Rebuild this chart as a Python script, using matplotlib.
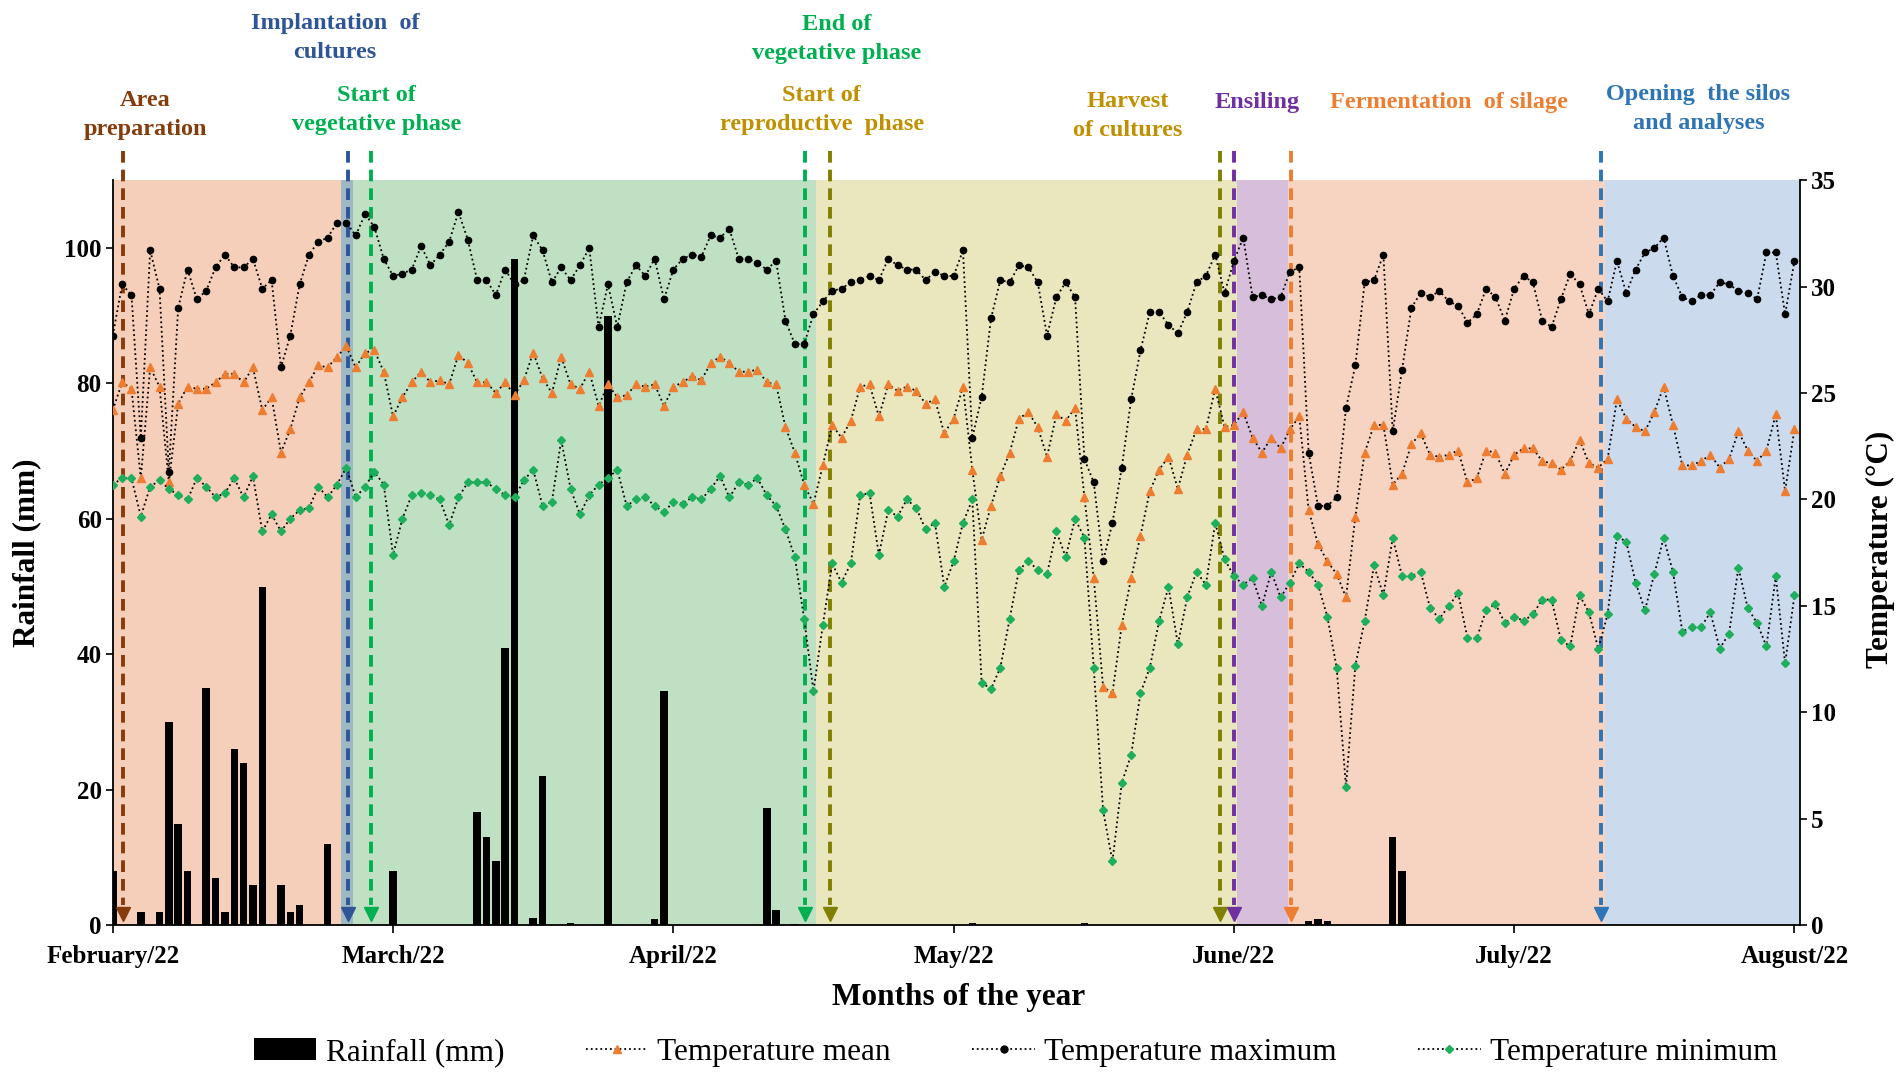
import numpy as np
import matplotlib
matplotlib.use("Agg")
import matplotlib.pyplot as plt
from matplotlib.patches import Patch
from matplotlib.lines import Line2D

plt.rcParams['font.family'] = ['Liberation Serif', 'DejaVu Serif']

# day index 0 = 1 Feb 2022
month_labels = ["February/22", "March/22", "April/22", "May/22",
                "June/22", "July/22", "August/22"]
month_ticks = [0, 30, 60, 90, 120, 150, 180]

rain_days = [0, 3, 5, 6, 7, 8, 10, 11, 12, 13, 14, 15, 16, 18, 19, 20, 23,
             30, 39, 40, 41, 42, 43, 45, 46, 49, 53, 58, 59, 70, 71, 73,
             92, 104, 128, 129, 130, 137, 138]
rain_mm = [8, 2, 2, 30, 15, 8, 35, 7, 2, 26, 24, 6, 50, 6, 2, 3, 12,
           8, 16.7, 13, 9.5, 41, 98.4, 1.1, 22, 0.4, 90, 1, 34.6, 17.3, 2.3, 0.2,
           0.3, 0.3, 0.7, 1.0, 0.7, 13, 8]

t_max = [27.7, 30.1, 29.6, 22.9, 31.7, 29.9, 21.3, 29.0, 30.8, 29.4, 29.8, 30.9, 31.5, 30.9, 30.9,
         31.3, 29.9, 30.3, 26.2, 27.7, 30.1, 31.5, 32.1, 32.3, 33.0, 33.0, 32.4, 33.4, 32.8, 31.3,
         30.5, 30.6, 30.8, 31.9, 31.0, 31.5, 32.1, 33.5, 32.2, 30.3, 30.3, 29.6, 30.8, 30.1, 30.3,
         32.4, 31.7, 30.2, 30.9, 30.3, 31.0, 31.8, 28.1, 30.1, 28.1, 30.2, 31.0, 30.5, 31.3, 29.4,
         30.8, 31.3, 31.5, 31.4, 32.4, 32.3, 32.7, 31.3, 31.3, 31.1, 30.8, 31.2, 28.4, 27.3, 27.3,
         28.7, 29.3, 29.8, 29.9, 30.2, 30.3, 30.5, 30.3, 31.3, 31.0, 30.8, 30.8, 30.3, 30.7, 30.5,
         30.5, 31.7, 22.9, 24.8, 28.5, 30.3, 30.2, 31.0, 30.9, 30.2, 27.7, 29.5, 30.2, 29.5, 21.9,
         20.8, 17.1, 18.9, 21.5, 24.7, 27.0, 28.8, 28.8, 28.2, 27.8, 28.8, 30.2, 30.5, 31.5, 29.7,
         31.2, 32.3, 29.5, 29.6, 29.4, 29.5, 30.7, 30.9, 22.2, 19.7, 19.7, 20.1, 24.3, 26.3, 30.2,
         30.3, 31.5, 23.2, 26.1, 29.0, 29.7, 29.5, 29.8, 29.3, 29.1, 28.3, 28.7, 29.9, 29.5, 28.4,
         29.9, 30.5, 30.2, 28.4, 28.1, 29.4, 30.6, 30.1, 28.7, 29.9, 29.3, 31.2, 29.7, 30.8, 31.6,
         31.8, 32.3, 30.5, 29.5, 29.3, 29.6, 29.6, 30.2, 30.1, 29.8, 29.7, 29.4, 31.6, 31.6, 28.7,
         31.2]

t_mean = [24.2, 25.5, 25.2, 21.0, 26.2, 25.3, 20.8, 24.5, 25.3, 25.2, 25.2, 25.5, 25.9, 25.9, 25.5,
          26.2, 24.2, 24.8, 22.2, 23.3, 24.8, 25.5, 26.3, 26.2, 26.7, 27.2, 26.2, 26.9, 27.0, 26.0,
          23.9, 24.8, 25.5, 26.0, 25.5, 25.6, 25.4, 26.8, 26.4, 25.5, 25.5, 25.0, 25.5, 24.9, 25.6,
          26.9, 25.7, 25.0, 26.7, 25.4, 25.2, 26.0, 24.4, 25.4, 24.8, 24.9, 25.4, 25.3, 25.4, 24.4,
          25.3, 25.5, 25.8, 25.6, 26.4, 26.7, 26.4, 26.0, 26.0, 26.1, 25.5, 25.4, 23.4, 22.2, 20.7,
          19.8, 21.6, 23.5, 22.9, 23.7, 25.3, 25.4, 23.9, 25.4, 25.1, 25.3, 25.1, 24.5, 24.7, 23.1,
          23.8, 25.3, 21.4, 18.1, 19.7, 21.1, 22.2, 23.8, 24.1, 23.4, 22.0, 24.0, 23.7, 24.3, 20.1,
          16.3, 11.2, 10.9, 14.1, 16.3, 18.3, 20.4, 21.4, 22.0, 20.5, 22.1, 23.3, 23.3, 25.2, 23.4,
          23.5, 24.1, 22.9, 22.2, 22.9, 22.4, 23.3, 23.9, 19.5, 17.9, 17.1, 16.5, 15.4, 19.2, 22.2,
          23.5, 23.5, 20.7, 21.2, 22.6, 23.1, 22.1, 22.0, 22.1, 22.3, 20.8, 21.0, 22.3, 22.2, 21.2,
          22.1, 22.4, 22.4, 21.8, 21.7, 21.4, 21.8, 22.8, 21.7, 21.5, 21.9, 24.7, 23.8, 23.4, 23.2,
          24.1, 25.3, 23.5, 21.6, 21.6, 21.8, 22.1, 21.5, 21.9, 23.2, 22.3, 21.8, 22.3, 24.0, 20.4,
          23.3]

t_min = [20.7, 21.0, 21.0, 19.2, 20.6, 20.9, 20.5, 20.2, 20.0, 21.0, 20.6, 20.1, 20.3, 21.0, 20.1,
         21.1, 18.5, 19.3, 18.5, 19.1, 19.5, 19.6, 20.6, 20.1, 20.7, 21.5, 20.1, 20.6, 21.3, 20.7,
         17.4, 19.1, 20.2, 20.3, 20.2, 20.0, 18.8, 20.1, 20.8, 20.8, 20.8, 20.5, 20.2, 20.1, 20.9,
         21.4, 19.7, 19.9, 22.8, 20.5, 19.3, 20.2, 20.7, 21.0, 21.4, 19.7, 20.0, 20.1, 19.7, 19.4,
         19.9, 19.8, 20.1, 20.0, 20.5, 21.1, 20.1, 20.8, 20.7, 21.0, 20.2, 19.7, 18.6, 17.3, 14.4,
         11.0, 14.1, 17.0, 16.1, 17.0, 20.2, 20.3, 17.4, 19.5, 19.2, 20.0, 19.6, 18.6, 18.9, 15.9,
         17.1, 18.9, 20.0, 11.4, 11.1, 12.1, 14.4, 16.7, 17.1, 16.7, 16.5, 18.5, 17.3, 19.1, 18.2,
         12.1, 5.4, 3.0, 6.7, 8.0, 10.9, 12.1, 14.3, 15.9, 13.2, 15.4, 16.6, 16.0, 18.9, 17.2,
         16.4, 16.0, 16.3, 15.0, 16.6, 15.4, 16.1, 17.0, 16.6, 16.0, 14.5, 12.1, 6.5, 12.2, 14.3,
         16.9, 15.5, 18.2, 16.4, 16.4, 16.6, 14.9, 14.4, 15.0, 15.6, 13.5, 13.5, 14.8, 15.1, 14.2,
         14.5, 14.3, 14.6, 15.3, 15.3, 13.4, 13.1, 15.5, 14.7, 13.0, 14.6, 18.3, 18.0, 16.1, 14.8,
         16.5, 18.2, 16.6, 13.8, 14.0, 14.0, 14.7, 13.0, 13.7, 16.8, 14.9, 14.2, 13.1, 16.4, 12.3,
         15.5]

days = np.arange(len(t_max))

# phases (start day, end day, colour)
phase_start = [0, 24.4, 25.7, 75.3, 120.3, 125.8, 159.7]
phase_end = [24.4, 25.7, 75.3, 120.3, 125.8, 159.7, 181]
phase_colors = ["#F5CFBA", "#9EB8C4", "#C0E0C3", "#EAE7BF", "#D7BEDA", "#F7D4C1", "#CCDAEE"]

# events marked with dashed arrows
event_days = [1.1, 25.2, 27.6, 74.1, 76.8, 118.5, 120.0, 126.1, 159.3]
event_colors = ["#843C0C", "#2F5597", "#00B050", "#00B050", "#808000",
                "#808000", "#7030A0", "#ED7D31", "#2E75B6"]

# phase texts above the plot (figure coordinates)
labels_txt = ["Area\npreparation", "Implantation  of\ncultures", "Start of\nvegetative phase",
              "End of\nvegetative phase", "Start of\nreproductive  phase", "Harvest\nof cultures",
              "Ensiling", "Fermentation  of silage", "Opening  the silos\nand analyses"]
labels_x = [0.0765, 0.176, 0.198, 0.440, 0.432, 0.593, 0.661, 0.762, 0.893]
labels_y = [0.893, 0.9645, 0.898, 0.964, 0.8975, 0.892, 0.905, 0.905, 0.899]
labels_c = ["#843C0C", "#2F5597", "#00B050", "#00B050", "#BF9000",
            "#BF9000", "#7030A0", "#ED7D31", "#2E75B6"]

fig = plt.figure(figsize=(19.02, 10.77), dpi=100)
ax = fig.add_axes([0.0593, 0.1408, 0.8871, 0.692])
ax2 = ax.twinx()

for s, e, c in zip(phase_start, phase_end, phase_colors):
    ax.axvspan(s, e, color=c, lw=0, zorder=0)

ax.bar(rain_days, rain_mm, width=0.8, color="black", zorder=2)

for d, c in zip(event_days, event_colors):
    ax.plot([d, d], [114.3, 3.0], ls=(0, (3, 1.8)), lw=2.8, color=c, clip_on=False, zorder=3)
    ax.plot(d, 1.7, marker="v", ms=10, color=c, mec=c, clip_on=False, zorder=3)

ax2.plot(days, t_max, ls=":", lw=1.3, color="black", marker="o", ms=4.5,
         mfc="black", mec="black")
ax2.plot(days, t_mean, ls=":", lw=1.3, color="black", marker="^", ms=5.5,
         mfc="#ED7D31", mec="#ED7D31")
ax2.plot(days, t_min, ls=":", lw=1.3, color="black", marker="D", ms=4,
         mfc="#1FAF5C", mec="#1FAF5C")

ax.set_xlim(0, 180.6)
ax.set_ylim(0, 110)
ax2.set_ylim(0, 35)
ax.set_yticks(np.arange(0, 101, 20))
ax2.set_yticks(np.arange(0, 36, 5))
ax.set_xticks(month_ticks)
ax.set_xticklabels(month_labels)

for a in (ax, ax2):
    a.spines["top"].set_visible(False)
    for sp in a.spines.values():
        sp.set_linewidth(1.3)
ax.spines["right"].set_visible(False)
ax2.spines["left"].set_visible(False)
ax2.spines["bottom"].set_visible(False)

ax.tick_params(axis="y", length=5, width=1.2, pad=3, labelsize=18)
ax.tick_params(axis="x", length=6, width=1.2, pad=8, labelsize=18)
ax2.tick_params(axis="y", length=5, width=1.2, pad=3, labelsize=18)
for lab in ax.get_xticklabels() + ax.get_yticklabels() + ax2.get_yticklabels():
    lab.set_fontweight("bold")

fig.text(0.014, 0.487, "Rainfall (mm)", rotation=90, ha="center", va="center",
         fontsize=22.5, fontweight="bold")
fig.text(0.9885, 0.49, "Temperature (°C)", rotation=90, ha="center", va="center",
         fontsize=22.5, fontweight="bold")
fig.text(0.504, 0.074, "Months of the year", ha="center", va="center",
         fontsize=22.5, fontweight="bold")

for t, x, y, c in zip(labels_txt, labels_x, labels_y, labels_c):
    fig.text(x, y, t, ha="center", va="center", color=c, fontsize=17.5,
             fontweight="bold", linespacing=1.5)

handles = [Patch(facecolor="black"),
           Line2D([], [], ls=":", lw=1.3, color="black", marker="^", ms=6,
                  mfc="#ED7D31", mec="#ED7D31"),
           Line2D([], [], ls=":", lw=1.3, color="black", marker="o", ms=5,
                  mfc="black", mec="black"),
           Line2D([], [], ls=":", lw=1.3, color="black", marker="D", ms=4.5,
                  mfc="#1FAF5C", mec="#1FAF5C")]
names = ["Rainfall (mm)", "Temperature mean", "Temperature maximum", "Temperature minimum"]
fig.legend(handles, names, loc="center", bbox_to_anchor=(0.534, 0.0225), ncol=4,
           frameon=False, fontsize=22.5, handlelength=2.0, columnspacing=2.6,
           handletextpad=0.3, numpoints=1)

fig.savefig("out.png", dpi=100)
